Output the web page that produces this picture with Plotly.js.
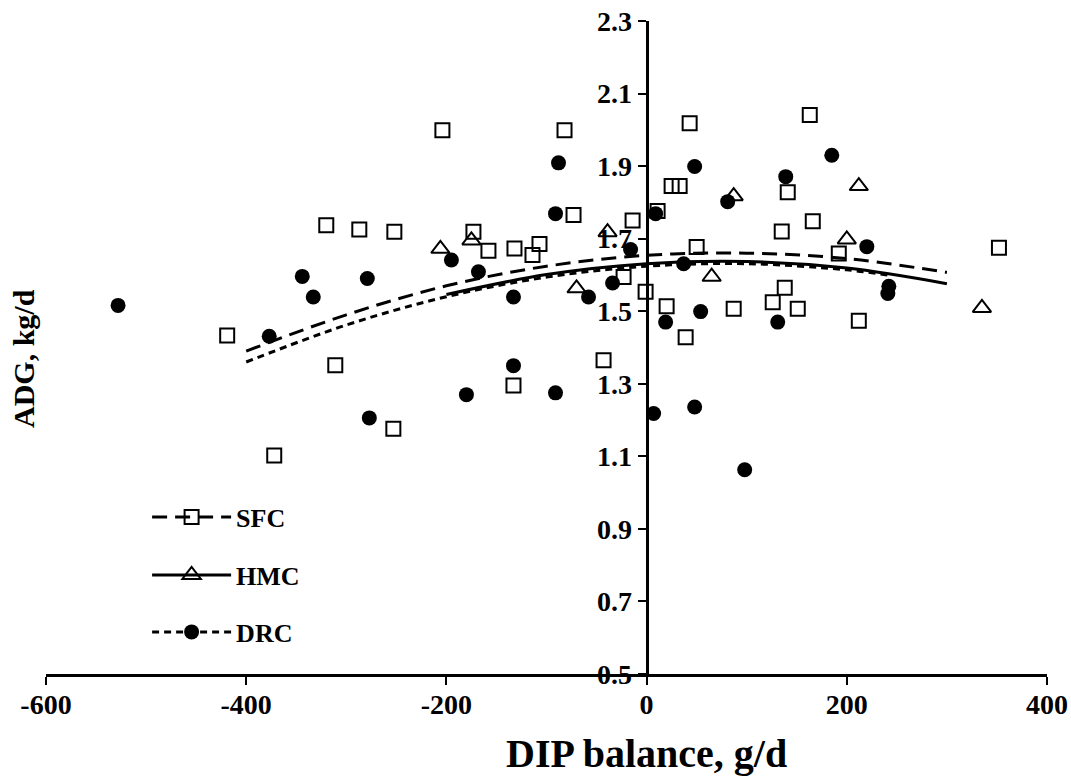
<!DOCTYPE html>
<html>
<head>
<meta charset="utf-8">
<script src="https://cdn.plot.ly/plotly-3.0.1.min.js"></script>
<style>html,body{margin:0;padding:0;background:#fff;}#chart{width:1071px;height:780px;}</style>
</head>
<body>
<div id="chart"></div>
<script>
// ---- data ----
const sfcX = [-419,-320,-311,-372,-204,-82,-73,-287,-252,-173,-158,-132,-114,-107,-14,-23,-1,-43,-133,-253,43,163,141,25,33,11,166,135,192,50,20,39,87,138,126,151,212,352];
const sfcY = [1.433,1.737,1.351,1.102,1.999,1.999,1.765,1.725,1.719,1.719,1.667,1.673,1.655,1.685,1.750,1.594,1.554,1.365,1.295,1.176,2.018,2.041,1.828,1.845,1.845,1.776,1.748,1.720,1.659,1.677,1.514,1.428,1.507,1.565,1.525,1.507,1.474,1.675];

const hmcX = [-206,-175,-70,-39,87,200,65,212,335];
const hmcY = [1.672,1.695,1.563,1.718,1.817,1.698,1.595,1.845,1.509];

const drcX = [-528,-344,-333,-377,-279,-277,-88,-91,-195,-168,-133,-58,-16,-34,-133,-180,-91,48,185,139,9,81,37,19,54,131,220,242,241,7,48,98];
const drcY = [1.516,1.596,1.539,1.431,1.590,1.206,1.909,1.769,1.641,1.609,1.539,1.539,1.670,1.578,1.350,1.270,1.275,1.899,1.930,1.871,1.769,1.802,1.631,1.470,1.499,1.470,1.678,1.569,1.549,1.218,1.236,1.063];

// fitted response curves
const sfcFitX = [-400,-300,-200,-100,0,100,200,300];
const sfcFitY = [1.390,1.490,1.570,1.624,1.654,1.660,1.645,1.607];
const hmcFitX = [-200,-100,0,100,200,300];
const hmcFitY = [1.546,1.601,1.631,1.637,1.619,1.576];
const drcFitX = [-400,-300,-200,-100,0,100,200,245];
const drcFitY = [1.360,1.462,1.540,1.594,1.624,1.631,1.614,1.598];

const seriesNames = ['SFC','HMC','DRC'];
const xTicks = [-600,-400,-200,0,200,400];
const yTicks = [0.5,0.7,0.9,1.1,1.3,1.5,1.7,1.9,2.1,2.3];
const xTitle = 'DIP balance, g/d';
const yTitle = 'ADG, kg/d';

// ---- styles ----
const FONT = 'Liberation Serif, Times New Roman, serif';
const dashSFC = '15px,8px';
const dashDRC = '7px,5px';
const lw = 3;

const traces = [
  {x: sfcFitX, y: sfcFitY, mode:'lines', line:{color:'#000', width:lw, dash:dashSFC, shape:'spline'}, showlegend:false, hoverinfo:'skip'},
  {x: hmcFitX, y: hmcFitY, mode:'lines', line:{color:'#000', width:lw, shape:'spline'}, showlegend:false, hoverinfo:'skip'},
  {x: drcFitX, y: drcFitY, mode:'lines', line:{color:'#000', width:lw, dash:dashDRC, shape:'spline'}, showlegend:false, hoverinfo:'skip'},
  {x: sfcX, y: sfcY, mode:'markers', marker:{symbol:'square-open', size:14, color:'#000', line:{width:2, color:'#000'}}, showlegend:false},
  {x: hmcX, y: hmcY, mode:'markers', marker:{symbol:'triangle-up-open', size:16, color:'#000', line:{width:2, color:'#000'}}, showlegend:false},
  {x: drcX, y: drcY, mode:'markers', marker:{symbol:'circle', size:15, color:'#000'}, showlegend:false},
  // legend entries
  {x:[null], y:[null], name: seriesNames[0], mode:'lines+markers', line:{color:'#000', width:lw, dash:dashSFC}, marker:{symbol:'square-open', size:14, color:'#000', line:{width:2}}, legend:'legend'},
  {x:[null], y:[null], name: seriesNames[1], mode:'lines+markers', line:{color:'#000', width:lw}, marker:{symbol:'triangle-up-open', size:16, color:'#000', line:{width:2}}, legend:'legend2'},
  {x:[null], y:[null], name: seriesNames[2], mode:'lines+markers', line:{color:'#000', width:lw, dash:dashDRC}, marker:{symbol:'circle', size:15, color:'#000'}, legend:'legend3'}
];

const legendBase = {
  font:{family:FONT, size:26, color:'#000', weight:'bold'},
  bgcolor:'rgba(0,0,0,0)', borderwidth:0,
  xanchor:'left', yanchor:'middle', itemwidth:79, x:0.101
};
// paper y for a pixel row (plot top 21, bottom 674)
function py(p){ return (674 - p) / 653; }

const tickFont = {family:FONT, size:28, color:'#000', weight:'bold'};

const layout = {
  width:1071, height:780,
  margin:{l:46, r:24, t:21, b:106},
  paper_bgcolor:'#fff', plot_bgcolor:'#fff',
  font:{family:FONT, size:26, color:'#000', weight:'bold'},
  xaxis:{
    range:[-600,400], tickvals:xTicks, ticktext:xTicks.map(String),
    showline:true, linewidth:3, linecolor:'#000', mirror:false,
    ticks:'outside', ticklen:8, tickwidth:2, tickcolor:'#000',
    showgrid:false, zeroline:false, ticklabelstandoff:-5,
    tickfont:tickFont
  },
  yaxis:{
    range:[0.5,2.3], tickvals:yTicks, ticktext:yTicks.map(v=>v.toFixed(1)),
    anchor:'free', position:0.6,
    showline:true, linewidth:3, linecolor:'#000',
    ticks:'outside', ticklen:8, tickwidth:2, tickcolor:'#000',
    showgrid:false, zeroline:false,
    tickfont:tickFont
  },
  legend: Object.assign({}, legendBase, {y: py(517)}),
  legend2: Object.assign({}, legendBase, {y: py(575)}),
  legend3: Object.assign({}, legendBase, {y: py(632)}),
  annotations:[
    {
      text:yTitle, textangle:-90, xref:'paper', yref:'paper',
      x:-0.023, y:py(358), xanchor:'center', yanchor:'middle', showarrow:false,
      font:{family:FONT, size:30, color:'#000', weight:'bold'}
    },
    {
      text:xTitle, xref:'x', yref:'paper',
      x:0, y:py(753), xanchor:'center', yanchor:'middle', showarrow:false,
      font:{family:FONT, size:40, color:'#000', weight:'bold'}
    }
  ],
  showlegend:true
};

Plotly.newPlot('chart', traces, layout, {displayModeBar:false, staticPlot:true});
</script>
</body>
</html>
